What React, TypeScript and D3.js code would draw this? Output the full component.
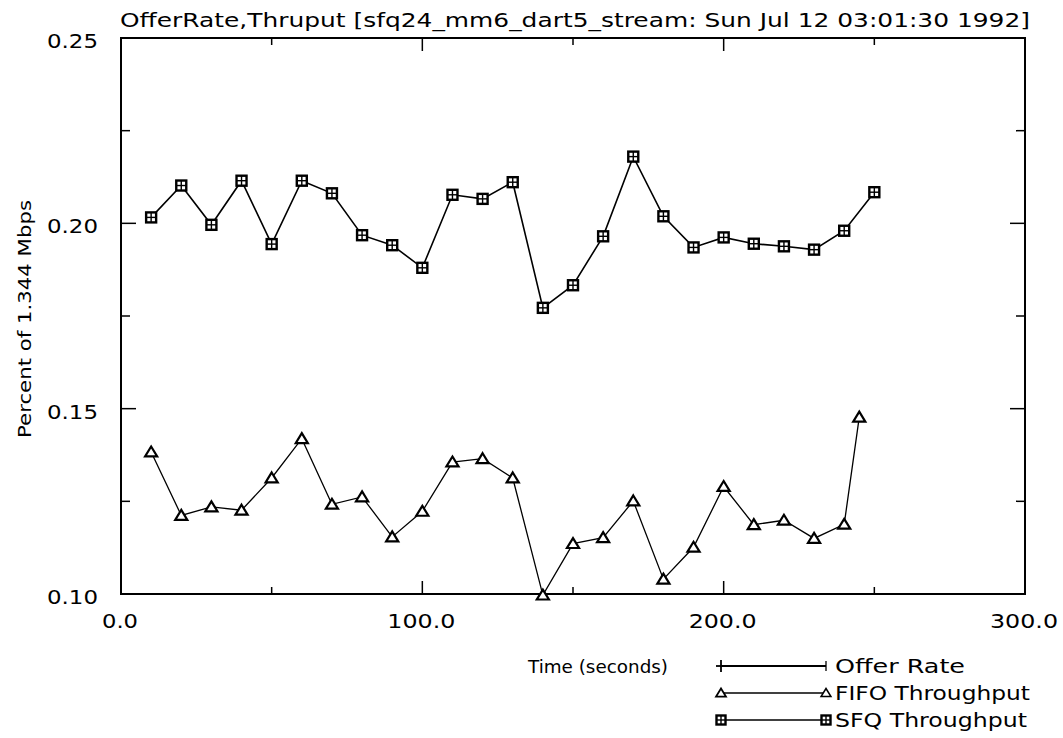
import React from "react";
import * as d3 from "d3";

const W = 1063;
const H = 738;

const title = "OfferRate,Thruput [sfq24_mm6_dart5_stream: Sun Jul 12 03:01:30 1992]";
const yAxisTitle = "Percent of 1.344 Mbps";
const xAxisTitle = "Time (seconds)";

const xMajorTicks = [0, 100, 200, 300];
const xMinorTicks = [50, 150, 250];
const yMajorTicks = [0.1, 0.15, 0.2, 0.25];
const yMinorTicks = [0.125, 0.175, 0.225];

const sfqTimes = [10, 20, 30, 40, 50, 60, 70, 80, 90, 100, 110, 120, 130, 140, 150, 160, 170, 180, 190, 200, 210, 220, 230, 240, 250];
const sfqValues = [0.2016, 0.2102, 0.1996, 0.2115, 0.1944, 0.2115, 0.2081, 0.1968, 0.1941, 0.188, 0.2077, 0.2066, 0.2111, 0.1772, 0.1833, 0.1965, 0.218, 0.2019, 0.1935, 0.1962, 0.1945, 0.1938, 0.1929, 0.198, 0.2084];

const fifoTimes = [10, 20, 30, 40, 50, 60, 70, 80, 90, 100, 110, 120, 130, 140, 150, 160, 170, 180, 190, 200, 210, 220, 230, 240, 245];
const fifoValues = [0.1383, 0.1212, 0.1235, 0.1226, 0.1313, 0.1419, 0.1242, 0.1262, 0.1154, 0.1223, 0.1356, 0.1365, 0.1313, 0.0997, 0.1136, 0.1152, 0.1251, 0.104, 0.1126, 0.129, 0.1187, 0.1199, 0.115, 0.1188, 0.1477];

const legendLabels = ["Offer Rate", "FIFO Throughput", "SFQ Throughput"];
const legendTextLengths = [130, 195, 192];

const FONT = "'DejaVu Sans', sans-serif";

const left = 121;
const right = 1025;
const top = 38;
const bottom = 594;

export default function App() {
  const x = d3.scaleLinear().domain([0, 300]).range([left, right]);
  const y = d3.scaleLinear().domain([0.1, 0.25]).range([bottom, top]);

  const sfq = sfqTimes.map((t, i) => [t, sfqValues[i]] as [number, number]);
  const fifo = fifoTimes.map((t, i) => [t, fifoValues[i]] as [number, number]);

  const line = d3
    .line<[number, number]>()
    .x((d) => x(d[0]))
    .y((d) => y(d[1]));

  const tri = (cx: number, cy: number, s = 5.5) =>
    `M${cx},${cy - s} L${cx + s * 1.1},${cy + s * 0.8} L${cx - s * 1.1},${cy + s * 0.8} Z`;

  const square = (cx: number, cy: number, key: string, sz = 10) => (
    <g key={key}>
      <rect x={cx - sz / 2} y={cy - sz / 2} width={sz} height={sz} fill="white" stroke="black" strokeWidth={2.4} />
      <line x1={cx} y1={cy - sz / 2} x2={cx} y2={cy + sz / 2} stroke="black" strokeWidth={1.4} />
      <line x1={cx - sz / 2} y1={cy} x2={cx + sz / 2} y2={cy} stroke="black" strokeWidth={1.4} />
    </g>
  );

  const legendX1 = 721;
  const legendX2 = 826;
  const legendYs = [666, 693, 720];

  const xLabelText = (t: number) => t.toFixed(1);

  return (
    <svg
      width={W}
      height={H}
      style={{ position: "absolute", left: 0, top: 0, background: "white" }}
      fontFamily={FONT}
    >
      <rect x={0} y={0} width={W} height={H} fill="white" />
      {/* title */}
      <text x={120} y={27} fontSize={19} textLength={910} lengthAdjust="spacingAndGlyphs">
        {title}
      </text>

      {/* frame */}
      <rect x={left} y={top} width={right - left} height={bottom - top} fill="none" stroke="black" strokeWidth={2} />

      {/* x ticks */}
      {xMajorTicks.map((t) => {
        const lab = xLabelText(t);
        const len = lab.length === 3 ? 36 : 68;
        return (
          <g key={"xm" + t}>
            <line x1={x(t)} x2={x(t)} y1={bottom} y2={bottom - 13} stroke="black" strokeWidth={1.5} />
            <line x1={x(t)} x2={x(t)} y1={top} y2={top + 13} stroke="black" strokeWidth={1.5} />
            <text
              x={x(t) - len / 2 - 1}
              y={628}
              fontSize={20}
              textLength={len}
              lengthAdjust="spacingAndGlyphs"
            >
              {lab}
            </text>
          </g>
        );
      })}
      {xMinorTicks.map((t) => (
        <g key={"xn" + t}>
          <line x1={x(t)} x2={x(t)} y1={bottom} y2={bottom - 7} stroke="black" strokeWidth={1.5} />
          <line x1={x(t)} x2={x(t)} y1={top} y2={top + 7} stroke="black" strokeWidth={1.5} />
        </g>
      ))}

      {/* y ticks */}
      {yMajorTicks.map((t) => (
        <g key={"ym" + t}>
          <line x1={left} x2={left + 15} y1={y(t)} y2={y(t)} stroke="black" strokeWidth={1.5} />
          <line x1={right} x2={right - 15} y1={y(t)} y2={y(t)} stroke="black" strokeWidth={1.5} />
          <text x={47} y={y(t) + 10} fontSize={20} textLength={51} lengthAdjust="spacingAndGlyphs">
            {t.toFixed(2)}
          </text>
        </g>
      ))}
      {yMinorTicks.map((t) => (
        <g key={"yn" + t}>
          <line x1={left} x2={left + 9} y1={y(t)} y2={y(t)} stroke="black" strokeWidth={1.5} />
          <line x1={right} x2={right - 9} y1={y(t)} y2={y(t)} stroke="black" strokeWidth={1.5} />
        </g>
      ))}

      {/* axis titles */}
      <text
        transform={`translate(31, 438) rotate(-90)`}
        fontSize={17}
        textLength={238}
        lengthAdjust="spacingAndGlyphs"
      >
        {yAxisTitle}
      </text>
      <text x={528} y={673} fontSize={18} textLength={140} lengthAdjust="spacingAndGlyphs">
        {xAxisTitle}
      </text>

      {/* series */}
      <path d={line(sfq) || ""} fill="none" stroke="black" strokeWidth={1.6} />
      <path d={line(fifo) || ""} fill="none" stroke="black" strokeWidth={1.3} />
      {fifo.map((d, i) => (
        <path key={"f" + i} d={tri(x(d[0]), y(d[1]))} fill="white" stroke="black" strokeWidth={2.2} />
      ))}
      {sfq.map((d, i) => square(x(d[0]), y(d[1]), "s" + i))}

      {/* legend */}
      {legendLabels.map((lab, i) => {
        const ly = legendYs[i];
        return (
          <g key={"lg" + i}>
            <line x1={legendX1} x2={legendX2} y1={ly} y2={ly} stroke="black" strokeWidth={i === 0 ? 2 : 1.3} />
            {i === 0 && (
              <>
                <line x1={legendX1} x2={legendX1} y1={ly - 6} y2={ly + 6} stroke="black" strokeWidth={1.8} />
                <line x1={legendX1 - 5} x2={legendX1 + 5} y1={ly} y2={ly} stroke="black" strokeWidth={1.8} />
                <line x1={legendX2} x2={legendX2} y1={ly - 5} y2={ly + 5} stroke="black" strokeWidth={1.3} />
              </>
            )}
            {i === 1 && (
              <>
                <path d={tri(legendX1, ly, 4.5)} fill="white" stroke="black" strokeWidth={1.8} />
                <path d={tri(legendX2, ly, 4.5)} fill="white" stroke="black" strokeWidth={1.5} />
              </>
            )}
            {i === 2 && (
              <>
                {square(legendX1, ly, "ls1", 9)}
                {square(legendX2, ly, "ls2", 9)}
              </>
            )}
            <text
              x={835}
              y={ly + 7}
              fontSize={19}
              textLength={legendTextLengths[i]}
              lengthAdjust="spacingAndGlyphs"
            >
              {lab}
            </text>
          </g>
        );
      })}
    </svg>
  );
}
